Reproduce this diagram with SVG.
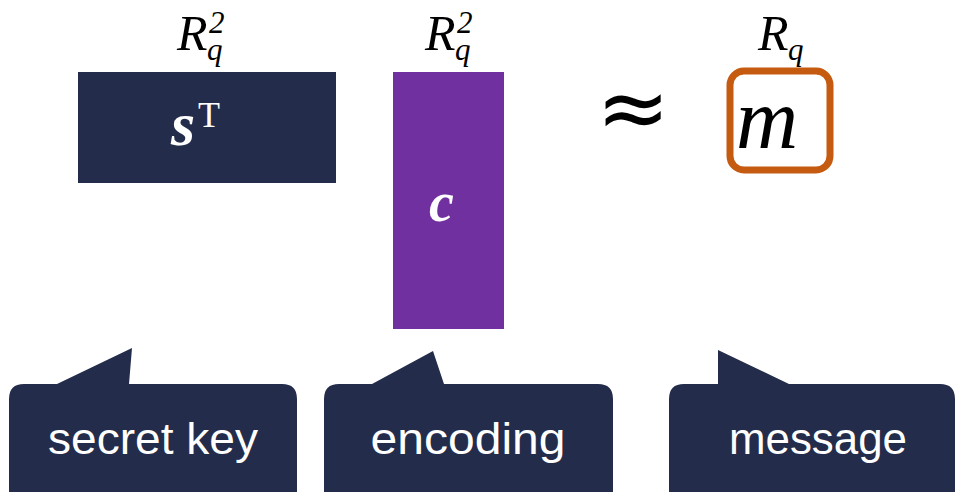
<svg xmlns="http://www.w3.org/2000/svg" width="955" height="492" viewBox="0 0 955 492">
<style>
.navy{fill:#232c4b}
.math{font-family:"Liberation Serif",serif;font-style:italic;fill:#000}
.lbl{font-family:"Liberation Sans",Arial,sans-serif;font-size:44px;fill:#fff;text-anchor:middle}
.w{fill:#fff}
</style>
<rect width="955" height="492" fill="#fff"/>
<g id="set-labels">
<text class="math" x="177" y="50" font-size="50">R</text>
<text class="math" x="207" y="60" font-size="31">q</text>
<text class="math" x="209" y="33" font-size="31" font-style="normal">2</text>
<text class="math" x="425" y="50" font-size="50">R</text>
<text class="math" x="455" y="60" font-size="31">q</text>
<text class="math" x="457" y="33" font-size="31" font-style="normal">2</text>
<text class="math" x="758" y="50" font-size="50">R</text>
<text class="math" x="788" y="60" font-size="31">q</text>
</g>
<g id="secret-vector">
<rect class="navy" x="78" y="72" width="258" height="111"/>
<text class="math w" x="171" y="145" font-size="62" font-weight="bold">s</text>
<text x="198" y="127" font-size="36" font-family="Liberation Serif,serif" class="w">T</text>
</g>
<g id="encoding-vector">
<rect x="393" y="72" width="111" height="257" fill="#7030a0"/>
<text class="math w" x="429" y="221" font-size="56" font-weight="bold">c</text>
</g>
<g id="approx">
<text x="633" y="138" font-size="88" font-family="DejaVu Sans,sans-serif" text-anchor="middle" fill="#000">≈</text>
</g>
<g id="message-box">
<rect x="730" y="71" width="100" height="99" rx="14" fill="none" stroke="#c55a11" stroke-width="7"/>
<text class="math" x="736" y="148" font-size="86">m</text>
</g>
<g id="callouts">
<g id="callout-secret-key">
<path class="navy" d="M24 384 H57 L132 348 L129 384 H282 Q297 384 297 399 V492 H9 V399 Q9 384 24 384 Z"/>
<text class="lbl" x="153" y="454" textLength="210" lengthAdjust="spacingAndGlyphs">secret key</text>
</g>
<g id="callout-encoding">
<path class="navy" d="M339 384 H372 L433 351 L444 384 H598 Q613 384 613 399 V492 H324 V399 Q324 384 339 384 Z"/>
<text class="lbl" x="468" y="454" textLength="195" lengthAdjust="spacingAndGlyphs">encoding</text>
</g>
<g id="callout-message">
<path class="navy" d="M684 384 H718 L718 350 L789 384 H940 Q955 384 955 399 V492 H669 V399 Q669 384 684 384 Z"/>
<text class="lbl" x="818" y="454" textLength="178" lengthAdjust="spacingAndGlyphs">message</text>
</g>
</g>
</svg>
